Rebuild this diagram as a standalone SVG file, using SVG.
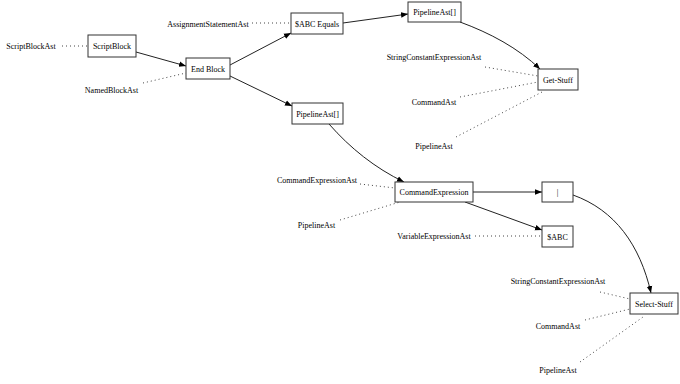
<svg xmlns="http://www.w3.org/2000/svg" width="680" height="384" viewBox="0 0 680 384">
<defs>
<style>
.n rect{fill:#fff;stroke:#333;stroke-width:1}
text{font-family:"Liberation Serif","Times New Roman",serif;font-size:8px;fill:#000;text-anchor:middle}
.e{fill:none;stroke:#222;stroke-width:1}
.d{fill:none;stroke:#444;stroke-width:1;stroke-dasharray:1,3}
</style>
<marker id="a" viewBox="0 0 10 10" refX="10" refY="5" markerWidth="7" markerHeight="7" markerUnits="userSpaceOnUse" orient="auto">
<path d="M0,1 L10,5 L0,9 Z" fill="#000"/>
</marker>
</defs>
<rect width="680" height="384" fill="#fff"/>
<g id="connectors">
<path class="e" d="M136,52 L186,66" marker-end="url(#a)"/>
<path class="e" d="M230,65 L291,33" marker-end="url(#a)"/>
<path class="e" d="M230,76 L292,106" marker-end="url(#a)"/>
<path class="e" d="M343,23 L408,14" marker-end="url(#a)"/>
<path class="e" d="M460,22 C490,33 518,48 540,69" marker-end="url(#a)"/>
<path class="e" d="M329,124 C350,148 375,168 404,182" marker-end="url(#a)"/>
<path class="e" d="M473,192 L542,192" marker-end="url(#a)"/>
<path class="e" d="M465,202 L542,230" marker-end="url(#a)"/>
<path class="e" d="M573,195 C615,210 640,245 651,293" marker-end="url(#a)"/>
<path class="d" d="M62,46 L88,46"/>
<path class="d" d="M143,83 L186,73"/>
<path class="d" d="M252,23 L291,23"/>
<path class="d" d="M485,67 L538,76"/>
<path class="d" d="M460,97 L538,82"/>
<path class="d" d="M456,137 L542,92"/>
<path class="d" d="M360,184 L395,188"/>
<path class="d" d="M340,220 L400,202"/>
<path class="d" d="M475,236 L542,236"/>
<path class="d" d="M600,292 L630,299"/>
<path class="d" d="M585,320 L630,309"/>
<path class="d" d="M580,362 L643,317"/>
</g>
<g id="ScriptBlock" class="n"><rect x="88" y="35" width="48" height="22"/><text x="112" y="49">ScriptBlock</text></g>
<g id="EndBlock" class="n"><rect x="186" y="58" width="44" height="21"/><text x="208" y="71.5">End Block</text></g>
<g id="ABCEquals" class="n"><rect x="291" y="13" width="52" height="21"/><text x="317" y="26.5">$ABC Equals</text></g>
<g id="PipelineAst1" class="n"><rect x="408" y="2" width="53" height="20"/><text x="434.5" y="15">PipelineAst[]</text></g>
<g id="GetStuff" class="n"><rect x="538" y="69" width="40" height="21"/><text x="558" y="82.5">Get-Stuff</text></g>
<g id="PipelineAst2" class="n"><rect x="292" y="103" width="51" height="21"/><text x="317.5" y="116.5">PipelineAst[]</text></g>
<g id="CommandExpression" class="n"><rect x="395" y="182" width="78" height="20"/><text x="434" y="195">CommandExpression</text></g>
<g id="Pipe" class="n"><rect x="542" y="182" width="31" height="20"/><text x="557.5" y="195">|</text></g>
<g id="ABC" class="n"><rect x="542" y="226" width="31" height="21"/><text x="557.5" y="239.5">$ABC</text></g>
<g id="SelectStuff" class="n"><rect x="630" y="293" width="48" height="21"/><text x="654" y="306.5">Select-Stuff</text></g>
<g id="labels">
<text x="31" y="49">ScriptBlockAst</text>
<text x="111.5" y="93">NamedBlockAst</text>
<text x="208" y="27">AssignmentStatementAst</text>
<text x="434" y="60">StringConstantExpressionAst</text>
<text x="434" y="105">CommandAst</text>
<text x="434" y="149">PipelineAst</text>
<text x="317" y="183">CommandExpressionAst</text>
<text x="316.5" y="228">PipelineAst</text>
<text x="434" y="239">VariableExpressionAst</text>
<text x="558" y="284">StringConstantExpressionAst</text>
<text x="558" y="329">CommandAst</text>
<text x="558" y="373">PipelineAst</text>
</g>
</svg>
